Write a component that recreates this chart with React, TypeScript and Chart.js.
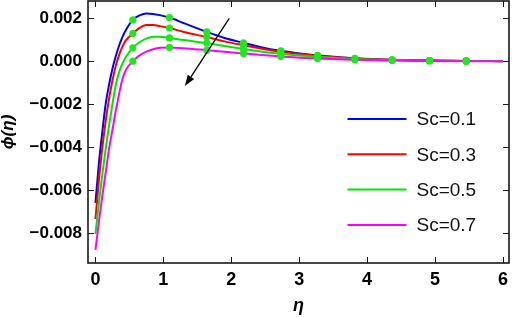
import React, { useEffect, useRef } from 'react';
import { Chart, registerables } from 'chart.js';

Chart.register(...registerables);

// η grid (x values of the curves)
const ETA = [0, 0.05, 0.1, 0.15, 0.2, 0.25, 0.3, 0.35, 0.4, 0.45, 0.55, 0.65, 0.75, 0.85, 0.95, 1.09, 1.3, 1.64, 1.9, 2.18, 2.45, 2.73, 3.0, 3.27, 3.55, 3.82, 4.37, 4.92, 5.46, 6.0];
// η values where the green mesh markers sit
const MARKER_ETA = [0.55, 1.09, 1.64, 2.18, 2.73, 3.27, 3.82, 4.37, 4.92, 5.46];

const SC_LABELS = ['Sc=0.1', 'Sc=0.3', 'Sc=0.5', 'Sc=0.7'];

const PHI_SC01 = [-0.0066, -0.00477, -0.00332, -0.002, -0.0011, -0.00035, 0.00024, 0.00074, 0.00114, 0.00146, 0.00192, 0.00213, 0.00222, 0.0022, 0.00214, 0.00203, 0.00177, 0.00136, 0.00108, 0.00085, 0.00064, 0.00048, 0.00036, 0.00027, 0.00019, 0.00013, 0.00006, 0.00003, 0.00001, 0];
const PHI_SC03 = [-0.00735, -0.00555, -0.00405, -0.0028, -0.00175, -0.0009, -0.0002, 0.0003, 0.0007, 0.00098, 0.00129, 0.00155, 0.00168, 0.00168, 0.00163, 0.00154, 0.00136, 0.00112, 0.00092, 0.00074, 0.00058, 0.00044, 0.00034, 0.00025, 0.00018, 0.00012, 0.00006, 0.00003, 0.00001, 0];
const PHI_SC05 = [-0.00805, -0.0066, -0.0053, -0.0041, -0.003, -0.002, -0.0011, -0.0005, -0.0001, 0.0002, 0.00062, 0.00088, 0.00105, 0.00114, 0.00114, 0.00108, 0.00098, 0.00084, 0.0007, 0.00056, 0.00044, 0.00034, 0.00026, 0.0002, 0.00015, 0.0001, 0.00005, 0.00002, 0.00001, 0];
const PHI_SC07 = [-0.00879, -0.0075, -0.0063, -0.0052, -0.0041, -0.0032, -0.0023, -0.0015, -0.0008, -0.0004, 0.0, 0.00027, 0.00044, 0.00055, 0.00062, 0.00064, 0.0006, 0.00051, 0.00044, 0.00036, 0.00028, 0.00021, 0.00016, 0.00012, 0.00009, 0.00006, 0.00003, 0.00001, 0, 0];

const SERIES = [PHI_SC01, PHI_SC03, PHI_SC05, PHI_SC07];

// axis ranges and tick steps
const X_MIN = -0.11;
const X_MAX = 6.09;
const X_MINOR_STEP = 0.2;
const X_MAJOR_STEP = 1;
const Y_MIN = -0.0094;
const Y_MAX = 0.0028;
const Y_MINOR_STEP = 0.0005;
const Y_MAJOR_STEP = 0.002;

// arrow annotation (data coordinates: from -> to)
const ARROW_FROM = [1.97, 0.00199];
const ARROW_TO = [1.317, -0.00116];

const COLORS = ['#0000ff', '#ff0000', '#00e600', '#ff00ff'];
const MARKER_COLOR = '#22e622';
const FONT = "'Liberation Sans', Arial, sans-serif";

const isMultiple = (v: number, step: number) => {
  const k = v / step;
  return Math.abs(k - Math.round(k)) < 1e-6;
};

const stepTicks = (min: number, max: number, step: number) => {
  const out: { value: number }[] = [];
  const k0 = Math.ceil(min / step - 1e-9);
  const k1 = Math.floor(max / step + 1e-9);
  for (let k = k0; k <= k1; k++) out.push({ value: Math.round(k * step * 1e6) / 1e6 });
  return out;
};

const decorPlugin = {
  id: 'decor',
  afterDraw(chart: any) {
    const { ctx, chartArea: a, scales } = chart;
    const xs = scales.x;
    const ys = scales.y;
    ctx.save();
    ctx.strokeStyle = '#1a1a1a';
    ctx.lineWidth = 1;
    const seg = (x1: number, y1: number, x2: number, y2: number) => {
      ctx.beginPath();
      ctx.moveTo(x1, y1);
      ctx.lineTo(x2, y2);
      ctx.stroke();
    };
    for (const t of xs.ticks) {
      const v = t.value;
      const len = isMultiple(v, X_MAJOR_STEP) ? 6 : 3.5;
      const px = Math.round(xs.getPixelForValue(v)) + 0.5;
      seg(px, a.bottom, px, a.bottom - len);
      seg(px, a.top, px, a.top + len);
    }
    for (const t of ys.ticks) {
      const v = t.value;
      const len = isMultiple(v, Y_MAJOR_STEP) ? 6 : 3.5;
      const py = Math.round(ys.getPixelForValue(v)) + 0.5;
      seg(a.left, py, a.left + len, py);
      seg(a.right, py, a.right - len, py);
    }
    // frame
    ctx.lineWidth = 1.6;
    ctx.strokeRect(a.left, a.top, a.right - a.left, a.bottom - a.top);

    // arrow
    const x1 = xs.getPixelForValue(ARROW_FROM[0]);
    const y1 = ys.getPixelForValue(ARROW_FROM[1]);
    const x2 = xs.getPixelForValue(ARROW_TO[0]);
    const y2 = ys.getPixelForValue(ARROW_TO[1]);
    const ang = Math.atan2(y2 - y1, x2 - x1);
    const headLen = 11;
    const headW = 3.8;
    const bx = x2 - headLen * Math.cos(ang);
    const by = y2 - headLen * Math.sin(ang);
    ctx.strokeStyle = '#000';
    ctx.fillStyle = '#000';
    ctx.lineWidth = 1.3;
    seg(x1, y1, bx, by);
    ctx.beginPath();
    ctx.moveTo(x2, y2);
    ctx.lineTo(bx + headW * Math.sin(ang), by - headW * Math.cos(ang));
    ctx.lineTo(bx - headW * Math.sin(ang), by + headW * Math.cos(ang));
    ctx.closePath();
    ctx.fill();

    // legend
    const ds = chart.data.datasets;
    ctx.font = `19px ${FONT}`;
    ctx.textBaseline = 'middle';
    ctx.textAlign = 'left';
    for (let i = 0; i < ds.length; i++) {
      const ly = a.top + 118 + i * 35.3;
      const lx = a.right - 161.5;
      ctx.strokeStyle = ds[i].borderColor;
      ctx.lineWidth = 2;
      seg(lx, ly, lx + 59, ly);
      ctx.fillStyle = '#111';
      ctx.fillText(ds[i].label, lx + 69, ly + 1);
    }
    ctx.restore();
  },
};

export default function App() {
  const ref = useRef<HTMLCanvasElement | null>(null);
  useEffect(() => {
    document.body.style.margin = '0';
    const canvas = ref.current;
    if (!canvas) return;
    const chart = new Chart(canvas, {
      type: 'line',
      data: {
        datasets: SERIES.map((s, i) => ({
          label: SC_LABELS[i],
          data: ETA.map((x, j) => ({ x, y: s[j] })),
          borderColor: COLORS[i],
          borderWidth: 2,
          fill: false,
          cubicInterpolationMode: 'monotone' as const,
          order: SERIES.length - 1 - i,
          pointRadius: (c: any) =>
            c.raw && MARKER_ETA.some((m) => Math.abs(m - c.raw.x) < 1e-6) ? 3.6 : 0,
          pointHoverRadius: 0,
          pointBackgroundColor: MARKER_COLOR,
          pointBorderColor: MARKER_COLOR,
          pointBorderWidth: 0,
        })),
      },
      options: {
        animation: false,
        responsive: true,
        maintainAspectRatio: false,
        layout: { padding: { top: 1, right: 3, left: 0, bottom: 0 } },
        plugins: {
          legend: { display: false },
          tooltip: { enabled: false },
        },
        scales: {
          x: {
            type: 'linear',
            min: X_MIN,
            max: X_MAX,
            grid: { display: false, drawTicks: false },
            border: { display: false },
            afterBuildTicks: (s: any) => {
              s.ticks = stepTicks(X_MIN, X_MAX, X_MINOR_STEP);
            },
            afterFit: (s: any) => {
              s.height = 54;
              s.paddingLeft = 0;
              s.paddingRight = 0;
              s.paddingTop = 0;
              s.paddingBottom = 0;
            },
            ticks: {
              autoSkip: false,
              maxRotation: 0,
              padding: 6,
              color: '#000',
              font: { family: FONT, size: 18, weight: 'bold' },
              callback: (v: any) =>
                isMultiple(Number(v), X_MAJOR_STEP) ? String(Math.round(Number(v))) : null,
            },
            title: {
              display: true,
              text: 'η',
              color: '#000',
              font: { family: FONT, size: 18, weight: 'bold', style: 'italic', lineHeight: 1 },
              padding: { top: 0, bottom: 2 },
            },
          },
          y: {
            type: 'linear',
            min: Y_MIN,
            max: Y_MAX,
            grid: { display: false, drawTicks: false },
            border: { display: false },
            afterBuildTicks: (s: any) => {
              s.ticks = stepTicks(Y_MIN, Y_MAX, Y_MINOR_STEP);
            },
            afterFit: (s: any) => {
              s.width = 88;
              s.paddingLeft = 0;
              s.paddingRight = 0;
              s.paddingTop = 0;
              s.paddingBottom = 0;
            },
            ticks: {
              autoSkip: false,
              padding: 6,
              color: '#000',
              font: { family: FONT, size: 17, weight: 'bold' },
              callback: (v: any) => {
                const n = Number(v);
                if (!isMultiple(n, Y_MAJOR_STEP)) return null;
                const r = Math.abs(n) < 1e-9 ? 0 : n;
                return r.toFixed(3).replace('-', '\u2212');
              },
            },
            title: {
              display: true,
              text: 'ϕ(η)',
              color: '#000',
              font: { family: FONT, size: 17, weight: 'bold', style: 'italic', lineHeight: 1 },
              padding: { top: 0, bottom: 0 },
            },
          },
        },
      },
      plugins: [decorPlugin],
    });
    return () => chart.destroy();
  }, []);
  return (
    <div style={{ position: 'relative', width: 512, height: 317 }}>
      <canvas ref={ref} />
    </div>
  );
}
